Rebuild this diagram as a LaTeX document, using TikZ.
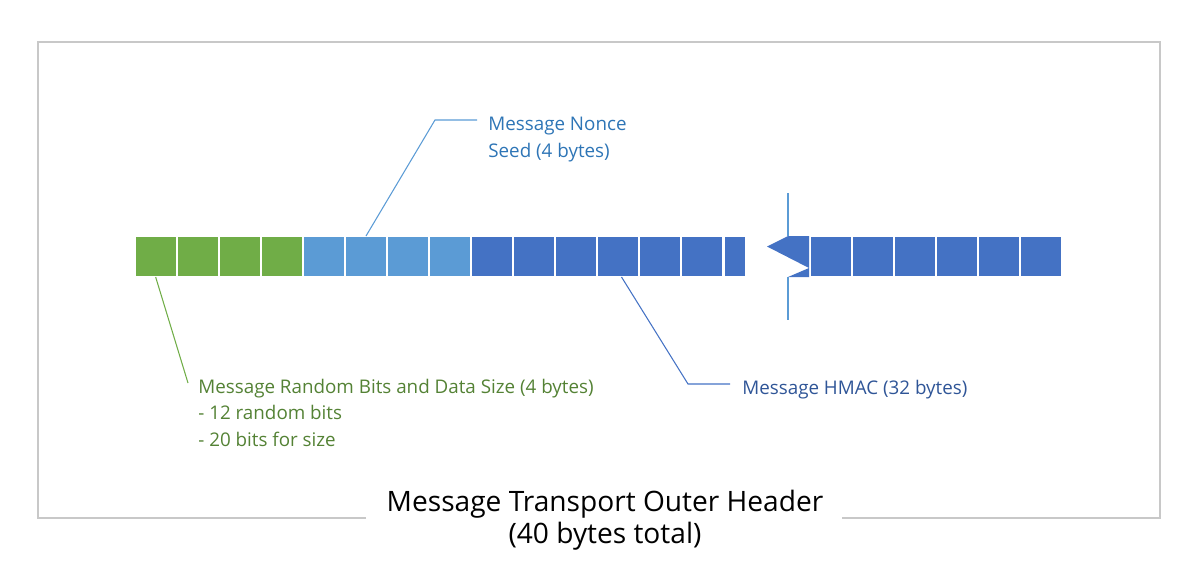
\documentclass[tikz,border=0pt]{standalone}
\usepackage{fontspec}
\setmainfont{Open Sans}
\usetikzlibrary{positioning}

\definecolor{rndgreen}{HTML}{70AD47}
\definecolor{rndtext}{HTML}{548235}
\definecolor{noncefill}{HTML}{5B9BD5}
\definecolor{noncetext}{HTML}{2E75B6}
\definecolor{macfill}{HTML}{4472C4}
\definecolor{mactext}{HTML}{2F5597}
\definecolor{framegray}{HTML}{C8C8C8}

\begin{document}
\begin{tikzpicture}[
    x=0.02cm, y=-0.02cm,
    cell/.style={draw=white, line width=0.8pt, minimum width=0.84cm, minimum height=0.82cm, inner sep=0pt, outer sep=0pt},
    rnd/.style={cell, fill=rndgreen},
    nonce/.style={cell, fill=noncefill},
    mac/.style={cell, fill=macfill},
    lead/.style={line width=0.6pt},
    lbl/.style={font=\fontsize{10.7}{15}\selectfont, align=left, anchor=base west, inner sep=0pt},
    ttl/.style={font=\fontsize{16}{18.2}\selectfont, align=center, anchor=base, inner sep=0pt},
    frame/.style={draw=framegray, line width=0.8pt}
]
\useasboundingbox (0,0) rectangle (1200,588);

% --- Outer frame (open under the title) ---
\draw[frame] (366,518) -| (38,42) -| (1160,518) -- (842,518);

% --- Header cells ---
\foreach \i in {1,...,4} {
  \node[rnd]   (rnd\i)   at ({114+42*\i},256.5) {};
  \node[nonce] (nonce\i) at ({282+42*\i},256.5) {};
}
\foreach \i in {1,...,6} {
  \node[mac] (mac\i)  at ({450+42*\i},256.5) {};
  \node[mac] (macr\i) at ({789+42*\i},256.5) {};
}
\node[mac, minimum width=0.44cm] (macp) at (735,256.5) {};

% --- Break mark ---
\fill[macfill] (788,236) -- (767,246.5) -- (809,268) -- (788,277) -- (809,277) -- (809,236) -- cycle;
\draw[noncefill, line width=0.8pt] (788,193) -- (788,236);
\draw[noncefill, line width=0.8pt] (788,277) -- (788,320);

% --- Labels (base = last line) ---
\node[lbl, text=noncetext] (noncelbl) at (488,157) {Message Nonce\\Seed (4 bytes)};
\node[lbl, text=mactext] (maclbl) at (742,394) {Message HMAC (32 bytes)};
\node[lbl, text=rndtext] (rndlbl) at (198,446) {Message Random Bits and Data Size (4 bytes)\\- 12 random bits\\- 20 bits for size};
\node[ttl] (title) at (605,543) {Message Transport Outer Header\\(40 bytes total)};

% --- Leader lines ---
\coordinate (noncebend) at (435,120);
\coordinate (nonceend)  at (477,120);
\coordinate (macbend)   at (688,384);
\coordinate (macend)    at (730,384);
\coordinate (rndend)    at (188,383);
\draw[lead, noncefill] (nonce2.north) -- (noncebend) -- (nonceend);
\draw[lead, macfill] ([xshift=2pt]mac4.south) -- (macbend) -- (macend);
\draw[lead, rndgreen] ([xshift=-0.2pt]rnd1.south) -- (rndend);
\end{tikzpicture}
\end{document}
